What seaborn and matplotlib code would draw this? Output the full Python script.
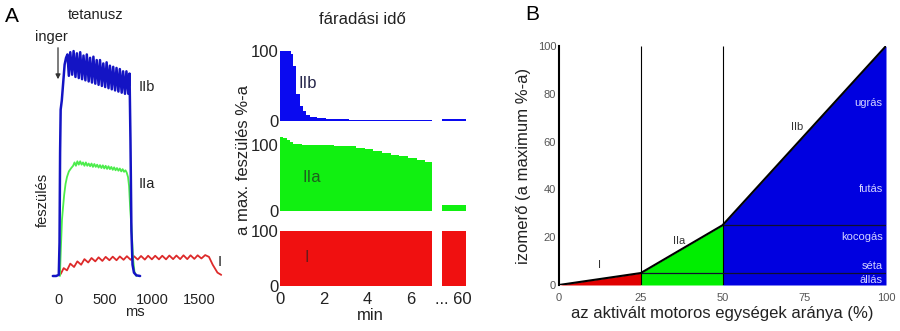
import matplotlib
matplotlib.use("Agg")
import matplotlib.pyplot as plt
from matplotlib import font_manager as fm
import numpy as np
import pandas as pd
import seaborn as sns

# ---------------- data ----------------
# Tetanus traces (time in ms, tension in arbitrary units, IIb peak = 100)
iib_ms = [-55, -20, 8, 16, 22, 28, 40, 55, 70, 85, 100, 115, 130, 150, 165, 185, 200, 220, 235,
          255, 270, 290, 305, 325, 340, 360, 375, 395, 410, 430, 445, 465, 480, 500, 515, 535, 550,
          570, 585, 605, 620, 640, 655, 675, 690, 710, 725, 745, 758, 768, 778, 790, 805, 830, 870]
iib_tension = [0, 0, 0.5, 15, 55, 74, 78, 86, 94, 97, 98.5, 89, 99.5, 89.5, 100, 88.5, 99, 88, 99.5,
               87.5, 98, 87, 98.5, 86.5, 97, 86, 97.5, 85.5, 96, 85, 96, 84.5, 94.5, 84, 95, 83.5,
               93.5, 83, 93, 82.5, 92.5, 82, 92, 81.5, 91, 81, 91, 81, 90, 60, 20, 5, 1.5, 0.3, 0]

iia_ms = [20, 30, 42, 52, 65, 80, 95, 115, 140, 160, 175, 190, 205, 220, 235, 250, 265, 280, 295, 310,
          325, 340, 355, 370, 385, 400, 415, 430, 445, 460, 475, 490, 505, 520, 535, 550, 565, 580,
          595, 610, 625, 640, 655, 670, 685, 700, 715, 728, 742, 753, 765, 781, 795, 810, 830]
iia_tension = [0, 12, 25, 30, 36, 41, 44, 46.5, 48, 49, 50.5, 49, 51, 49.5, 51, 49.5, 50.5, 49, 50.5, 49,
               50, 48.8, 50, 48.5, 49.8, 48.5, 49.5, 48.2, 49.3, 48, 49.2, 47.8, 49, 47.6, 48.8, 47.5,
               48.5, 47.2, 48.3, 47, 48, 46.8, 47.8, 46.5, 47.5, 46.3, 47, 46, 44, 40, 30, 20, 8, 2, 0]

i_ms = [20, 30, 60, 95, 130, 170, 205, 245, 280, 320, 355, 395, 430, 470, 505, 545, 580, 620, 655, 695,
        730, 770, 805, 845, 880, 920, 955, 995, 1030, 1070, 1105, 1145, 1180, 1220, 1255, 1295, 1330,
        1370, 1405, 1445, 1480, 1520, 1560, 1600, 1640, 1690, 1730]
i_tension = [0.5, 1, 3.5, 2.5, 5.5, 4, 6.5, 5, 7.5, 6, 8, 6.5, 8.3, 6.7, 8.5, 7, 8.6, 7, 8.7, 7.2,
             8.8, 7.2, 8.8, 7.3, 8.9, 7.3, 9, 7.4, 9, 7.4, 9, 7.4, 9.1, 7.5, 9.1, 7.5, 9.2, 7.5, 9.2, 7.6,
             9.2, 7.8, 9.3, 8.5, 5, 1.5, 0.5]
tet_ticks = [0, 500, 1000, 1500]

# Fatigue (minutes, % of max tension); the 60-min value is drawn in a separate slot
iib_fat_t = [0, 0.5, 0.62, 0.76, 0.92, 1.05, 1.2, 1.4, 1.7, 2.1, 2.6, 3.2, 4.0, 5.0, 6.0, 7.0]
iib_fat_v = [100, 96, 78, 38, 22, 14, 9, 6, 4, 3, 2.5, 2, 1.5, 1.2, 1, 1]
iia_fat_t = [0, 0.15, 0.3, 0.45, 0.6, 1.0, 1.5, 2.0, 2.5, 3.0, 3.5, 3.9, 4.3, 4.7, 5.1, 5.5, 5.9, 6.3, 6.7, 7.0]
iia_fat_v = [113, 111, 108, 104, 101.5, 100.5, 100, 99.5, 99, 98, 96, 93.5, 91, 88, 85.5, 83, 80, 77.5, 74, 71]
i_fat_t = [0, 7.0]
i_fat_v = [100, 100]
fat_60 = {"IIb": 2.5, "IIa": 9, "I": 100}
fat_ticks = [0, 2, 4, 6, 8]
fat_ticklabels = ["0", "2", "4", "6", "... 60"]

# Recruitment: share of active motor units vs. muscle force
recruit_pct = [0, 25, 50, 100]
force_pct = [0, 5, 25, 100]
activities = ["állás", "séta", "kocogás", "futás", "ugrás"]
activity_force = [2, 8, 20, 40, 76]

# ---------------- style ----------------
sns.set_theme(style="white")
names = {f.name for f in fm.fontManager.ttflist}
BASE = "Liberation Sans" if "Liberation Sans" in names else "DejaVu Sans"
plt.rcParams["font.family"] = [BASE, "DejaVu Sans"]
TXT = "#222222"
FS_A = 10.5

W, H = 900, 331
fig = plt.figure(figsize=(W / 100, H / 100), dpi=100)


def ax_at(left, top, right, bottom):
    return fig.add_axes([left / W, 1 - bottom / H, (right - left) / W, (bottom - top) / H])


def ftext(x, y, s, **kw):
    fig.text(x / W, 1 - y / H, s, **kw)


BLUE_T, GREEN_T, RED_T = "#1414c4", "#4cec4c", "#dd2a2a"
BLUE, GREEN, RED = "#0a0af0", "#11f011", "#f01010"

# ---------------- A: tetanus ----------------
ax = ax_at(50, 45, 225, 280)
for ms, ten, col, lw in [(i_ms, i_tension, RED_T, 1.3),
                         (iia_ms, iia_tension, GREEN_T, 1.3),
                         (iib_ms, iib_tension, BLUE_T, 1.8)]:
    df = pd.DataFrame({"ms": ms, "t": ten})
    sns.lineplot(data=df, x="ms", y="t", ax=ax, color=col, lw=lw, estimator=None, sort=False)
ax.set_xlim(-85, 1770)
ax.set_ylim(-1.78, 102.7)
ax.set_xticks(tet_ticks)
ax.set_xticklabels([str(v) for v in tet_ticks], fontsize=FS_A, color=TXT)
ax.set_yticks([])
ax.tick_params(axis="x", length=0, pad=9)
ax.set_xlabel("")
ax.set_ylabel("")
for s in ax.spines.values():
    s.set_visible(False)
ax.patch.set_alpha(0)

ftext(12, 16, "A", fontsize=15, color="black", ha="center", va="center")
ftext(96, 15, "tetanusz", fontsize=FS_A, color=TXT, ha="center", va="center")
ftext(51, 37, "inger", fontsize=FS_A, color=TXT, ha="center", va="center")
fig.add_artist(matplotlib.patches.FancyArrowPatch((58 / W, 1 - 45 / H), (58 / W, 1 - 82 / H),
               transform=fig.transFigure, arrowstyle="-|>", mutation_scale=7, color="#333333", lw=0.9))
ftext(43, 200, "feszülés", fontsize=FS_A, color=TXT, ha="center", va="center", rotation=90)
ftext(147, 87, "IIb", fontsize=FS_A, color=TXT, ha="center", va="center")
ftext(147, 184, "IIa", fontsize=FS_A, color=TXT, ha="center", va="center")
ftext(220, 262, "I", fontsize=FS_A, color=TXT, ha="center", va="center")
ftext(135, 312, "ms", fontsize=FS_A, color=TXT, ha="center", va="center")

# ---------------- A: fatigue ----------------
slot60 = (7.46, 8.57)
rows = [
    ("IIb", iib_fat_t, iib_fat_v, BLUE, (280, 51, 468, 121), 100, "#26264a", (308, 83)),
    ("IIa", iia_fat_t, iia_fat_v, GREEN, (280, 137, 468, 211), 112, "#1e5e1e", (312, 178)),
    ("I", i_fat_t, i_fat_v, RED, (280, 231, 468, 286), 100, "#6a1a1a", (307, 257)),
]
fat_axes = []
for name, t, v, col, box, ytop, lcol, lpos in rows:
    a = ax_at(*box)
    a.fill_between(t, v, step="post", color=col, lw=0)
    a.fill_between(list(slot60), [fat_60[name]] * 2, color=col, lw=0)
    a.set_xlim(0, 8.66)
    a.set_ylim(0, ytop)
    a.set_yticks([0, 100])
    a.set_yticklabels(["0", "100"], fontsize=12, color=TXT)
    a.tick_params(length=0, pad=1)
    a.set_xticks([])
    for s in a.spines.values():
        s.set_visible(False)
    a.patch.set_alpha(0)
    ftext(lpos[0], lpos[1], name, fontsize=12, color=lcol, ha="center", va="center")
    fat_axes.append(a)
ax_i = fat_axes[-1]
ax_i.set_xticks(fat_ticks)
ax_i.set_xticklabels(fat_ticklabels, fontsize=12, color=TXT)
ax_i.tick_params(axis="x", length=0, pad=4)

ftext(362, 20, "fáradási idő", fontsize=12, color=TXT, ha="center", va="center")
ftext(370, 315, "min", fontsize=12, color=TXT, ha="center", va="center")
ftext(243, 160, "a max. feszülés %-a", fontsize=12, color=TXT, ha="center", va="center", rotation=90)

# ---------------- B: recruitment ----------------
bx = ax_at(559, 46, 886, 285)
fills = ["#e00000", "#00ee00", "#0000e0"]
for k in range(3):
    bx.fill_between(recruit_pct[k:k + 2], force_pct[k:k + 2], color=fills[k], lw=0)
bx.vlines(recruit_pct[1:3], 0, 100, color="black", lw=0.8)
bx.hlines(force_pct[1], recruit_pct[1], recruit_pct[3], color="#101030", lw=0.9)
bx.hlines(force_pct[2], recruit_pct[2], recruit_pct[3], color="#101030", lw=0.9)
sns.lineplot(x=recruit_pct, y=force_pct, ax=bx, color="black", lw=1.5, estimator=None, sort=False)
bx.set_xlim(0, 100)
bx.set_ylim(0, 100)
bx.set_xticks([0, 25, 50, 75, 100])
bx.set_yticks(range(0, 101, 20))
bx.set_yticks(range(10, 100, 20), minor=True)
bx.tick_params(axis="x", length=0, pad=6, labelsize=8, labelcolor="#555555")
bx.tick_params(axis="y", which="both", direction="in", length=5, width=0.8, color="#333333",
               pad=2, labelsize=8, labelcolor="#555555")
bx.tick_params(axis="y", which="minor", color="#888888")
for s in ["top", "right", "bottom"]:
    bx.spines[s].set_visible(False)
bx.spines["left"].set_color("black")
bx.spines["left"].set_linewidth(1.5)
bx.set_xlabel("az aktivált motoros egységek aránya (%)", fontsize=12, color=TXT, labelpad=2)
bx.set_ylabel("izomerő (a maximum %-a)", fontsize=12, color=TXT, labelpad=5)
bx.patch.set_alpha(0)

bx.text(12.3, 8.4, "I", fontsize=8, color="#333333", ha="center", va="center")
bx.text(36.8, 18.5, "IIa", fontsize=8, color="#333333", ha="center", va="center")
bx.text(72.7, 66, "IIb", fontsize=8, color="#333333", ha="center", va="center")
for name, yv in zip(activities, activity_force):
    bx.text(99, yv, name, fontsize=8, color="#d4d4ff", ha="right", va="center")

ftext(532, 15, "B", fontsize=15, color="black", ha="center", va="center")

fig.savefig("out.png", dpi=100)
